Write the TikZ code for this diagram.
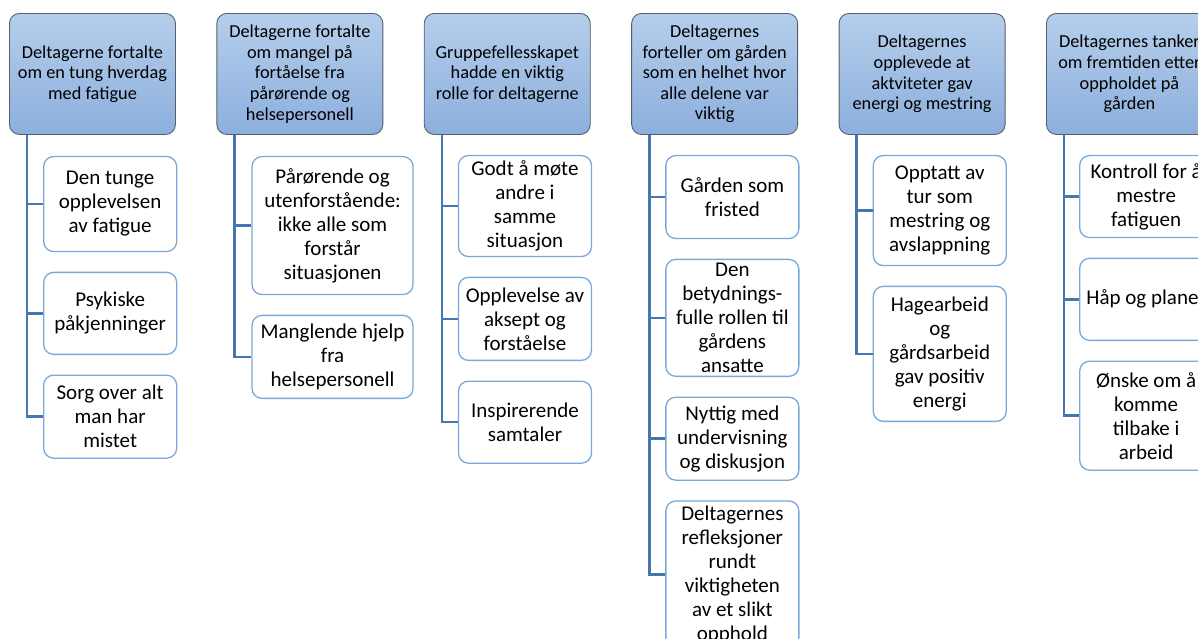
\documentclass[tikz,border=0pt]{standalone}
\usepackage{fontspec}
\setmainfont{Carlito}
\usepackage{xcolor}
\usepackage{tikz}
\usetikzlibrary{
	positioning,
	}
\definecolor{hdrtop}{HTML}{B5CEEB}
\definecolor{hdrbot}{HTML}{8CAFDD}
\definecolor{hdrline}{HTML}{56606C}
\definecolor{subline}{HTML}{79A9DA}
\definecolor{linkblue}{HTML}{4677AE}
\newcommand{\hdrfont}{\fontsize{18.3}{20.6}\selectfont}
\newcommand{\subfont}{\fontsize{21}{24}\selectfont}
\tikzset{
	theme/.style={draw=hdrline, line width=0.9pt, rounded corners=10pt, top color=hdrtop, bottom color=hdrbot, minimum width=166pt, minimum height=121pt, inner sep=1pt, align=center, font=\hdrfont},
	sub/.style={draw=subline, line width=1.3pt, rounded corners=10pt, fill=white, minimum width=133pt, inner sep=1pt, align=center, font=\subfont},
	link/.style={draw=linkblue, line width=2.6pt},
	}

\begin{document}
\begin{tikzpicture}[x=1pt, y=1pt]
		\clip (0,0) rectangle (1198,-638);
		\node[theme, anchor=north west] (h1) at (9,-13) {Deltagerne fortalte\\om en tung hverdag\\med fatigue};
		\node[theme, right = 40.5pt of h1] (h2) {Deltagerne fortalte\\om mangel på\\fortåelse fra\\pårørende og\\helsepersonell};
		\node[theme, right = 40.5pt of h2] (h3) {Gruppefellesskapet\\hadde en viktig\\rolle for deltagerne};
		\node[theme, right = 40.5pt of h3] (h4) {Deltagernes\\forteller om gården\\som en helhet hvor\\alle delene var\\viktig};
		\node[theme, right = 40.5pt of h4] (h5) {Deltagernes\\opplevede at\\aktviteter gav\\energi og mestring};
		\node[theme, right = 40.5pt of h5] (h6) {Deltagernes tanker\\om fremtiden etter\\oppholdet på\\gården};
		\coordinate[right = 18pt of h1.south west] (t1);
		\coordinate[right = 18pt of h2.south west] (t2);
		\coordinate[right = 18pt of h3.south west] (t3);
		\coordinate[right = 18pt of h4.south west] (t4);
		\coordinate[right = 18pt of h5.south west] (t5);
		\coordinate[right = 18pt of h6.south west] (t6);
		\node[sub, minimum height=95pt, below right = 21pt and 34pt of h1.south west] (c11) {Den tunge\\opplevelsen\\av fatigue};
		\node[sub, minimum height=82pt, below = 19.5pt of c11] (c12) {Psykiske\\påkjenninger};
		\node[sub, minimum height=83pt, below = 19.5pt of c12] (c13) {Sorg over alt\\man har\\mistet};
		\node[sub, minimum width=161pt, minimum height=138pt, below right = 21pt and 35pt of h2.south west] (c21) {Pårørende og\\utenforstående:\\ikke alle som\\forstår\\situasjonen};
		\node[sub, minimum width=161pt, minimum height=83pt, below = 19.5pt of c21] (c22) {Manglende hjelp\\fra\\helsepersonell};
		\node[sub, minimum height=101pt, below right = 20pt and 34pt of h3.south west] (c31) {Godt å møte\\andre i\\samme\\situasjon};
		\node[sub, minimum height=83pt, below = 19.5pt of c31] (c32) {Opplevelse av\\aksept og\\forståelse};
		\node[sub, minimum height=82pt, below = 19.5pt of c32] (c33) {Inspirerende\\samtaler};
		\node[sub, minimum height=83pt, below right = 20pt and 34pt of h4.south west] (c41) {Gården som\\fristed};
		\node[sub, minimum height=117pt, below = 19.5pt of c41] (c42) {Den\\betydnings-\\fulle rollen til\\gårdens\\ansatte};
		\node[sub, minimum height=83pt, below = 19.5pt of c42] (c43) {Nyttig med\\undervisning\\og diskusjon};
		\node[sub, minimum height=147pt, below = 19.5pt of c43] (c44) {Deltagernes\\refleksjoner\\rundt\\viktigheten\\av et slikt\\opphold};
		\node[sub, minimum height=110pt, below right = 20pt and 34pt of h5.south west] (c51) {Opptatt av\\tur som\\mestring og\\avslappning};
		\node[sub, minimum height=135pt, below = 19.5pt of c51] (c52) {Hagearbeid\\og\\gårdsarbeid\\gav positiv\\energi};
		\node[sub, minimum height=82pt, below right = 20pt and 33pt of h6.south west] (c61) {Kontroll for å\\mestre\\fatiguen};
		\node[sub, minimum height=82pt, below = 19.5pt of c61] (c62) {Håp og planer};
		\node[sub, minimum height=109pt, below = 19.5pt of c62] (c63) {Ønske om å\\komme\\tilbake i\\arbeid};
		\draw[link] (t1) |- (c11.west);
		\draw[link] (t1) |- (c12.west);
		\draw[link] (t1) |- (c13.west);
		\draw[link] (t2) |- (c21.west);
		\draw[link] (t2) |- (c22.west);
		\draw[link] (t3) |- (c31.west);
		\draw[link] (t3) |- (c32.west);
		\draw[link] (t3) |- (c33.west);
		\draw[link] (t4) |- (c41.west);
		\draw[link] (t4) |- (c42.west);
		\draw[link] (t4) |- (c43.west);
		\draw[link] (t4) |- (c44.west);
		\draw[link] (t5) |- (c51.west);
		\draw[link] (t5) |- (c52.west);
		\draw[link] (t6) |- (c61.west);
		\draw[link] (t6) |- (c62.west);
		\draw[link] (t6) |- (c63.west);
	\end{tikzpicture}
\end{document}
